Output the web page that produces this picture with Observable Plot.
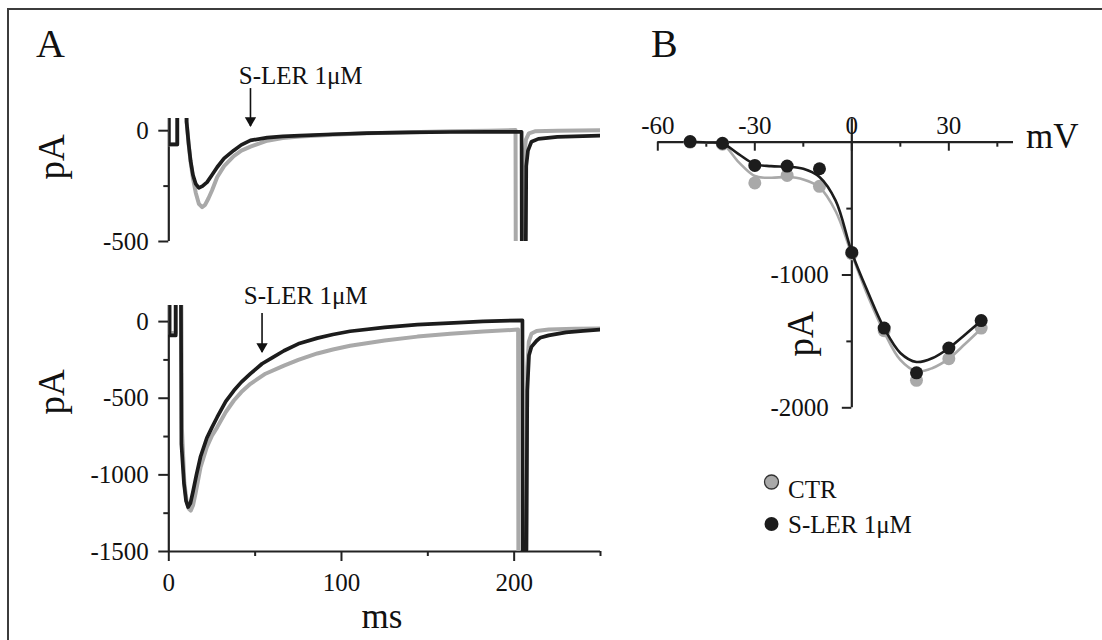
<!DOCTYPE html>
<html><head><meta charset="utf-8">
<script src="https://cdn.jsdelivr.net/npm/d3@7"></script>
<script src="https://cdn.jsdelivr.net/npm/@observablehq/plot@0.6"></script>
<style>
body{margin:0;background:#fff}
#root{position:relative;width:1102px;height:640px;overflow:hidden;background:#fff}
#root svg{font-family:'Liberation Serif','Times New Roman',serif !important}
#root svg text{font-family:'Liberation Serif','Times New Roman',serif !important}
#frame{position:absolute;left:7px;top:8px;width:1200px;height:700px;border:2px solid #3c3c3c}
</style></head><body><div id="root"><div id="frame"></div></div>
<script>
// ---------- DATA ----------
// Panel A, upper traces (time ms, current pA)
const topCtrT = [0,0,4.9,4.9,10.1,10.3,11.5,12.6,14,15.6,17.4,19.3,21,23,25,28,32,37.6,42,47.3,57,66,76,95,115,140,163,185,200.8,201,205.3,205.8,206.8,208.5,212,225,250];
const topCtrI = [300,-62,-62,300,300,40,-60,-140,-215,-280,-330,-345,-335,-305,-270,-210,-160,-115,-90,-72,-45,-33,-26,-18,-12,-7,-3,0,3,-900,-900,-120,-40,-12,-3,0,2];
const topSlerT = [0,0,4.9,4.9,10.1,10.3,11.5,12.6,14,15.6,17.4,19.5,22.2,25,28,32,37.6,42,47.3,57,66,76,95,115,140,163,185,204.3,204.5,206.5,207,208,210,214,225,250];
const topSlerI = [300,-62,-62,300,300,40,-60,-135,-200,-240,-258,-250,-232,-200,-165,-125,-89,-64,-44,-31,-26,-22,-16,-11,-8,-6,-5,-5,-900,-900,-160,-90,-50,-37,-28,-22];
// Panel A, lower traces
const botCtrT = [0.4,0.4,4,4,7.2,7.6,9,10.3,11.5,12.7,14,15.5,18.4,22,25,28,33,37.7,42,47.3,56,66.7,75,86,95,105,125,144,163,182,202.3,202.5,206.8,207.6,208.5,210,213,220,235,250];
const botCtrI = [300,-75,-75,300,300,-700,-1050,-1170,-1220,-1233,-1200,-1120,-950,-820,-745,-690,-590,-515,-460,-406,-340,-287,-250,-208,-182,-158,-124,-98,-80,-65,-52,-2000,-2000,-300,-130,-80,-62,-52,-47,-45];
const botSlerT = [0.4,0.4,4,4,7,7.3,8.8,10,11.2,12.5,14,16,18.4,22,25,28,33,37.7,42,47.3,54,60,66.7,75,86,95,105,125,144,165,182,204.8,205,206.8,207.6,208.6,210,213,215,220,230,240,250];
const botSlerI = [300,-90,-90,300,300,-800,-1057,-1170,-1210,-1185,-1110,-1000,-880,-760,-690,-624,-520,-450,-395,-340,-275,-235,-190,-145,-108,-84,-63,-38,-20,-8,2,8,-2000,-2000,-450,-220,-165,-125,-106,-90,-70,-60,-52];
// Panel B, I-V points
const ivVoltage = [-50,-40,-30,-20,-10,0,10,20,30,40];
const ivCtr  = [0,-15,-307,-250,-332,-840,-1420,-1793,-1630,-1400];
const ivSler = [5,-8,-175,-180,-200,-830,-1400,-1737,-1550,-1343];
// Panel B, fitted curves
const fitVoltage = [-50,-45,-40,-35,-30,-25,-20,-15,-10,-5,0,5,10,15,20,25,30,35,40];
const fitCtr  = [0,-3,-15,-150,-255,-268,-262,-280,-340,-520,-845,-1160,-1430,-1640,-1725,-1700,-1630,-1520,-1405];
const fitSler = [3,-2,-10,-90,-165,-180,-185,-200,-262,-440,-830,-1130,-1400,-1587,-1655,-1625,-1550,-1450,-1345];
// Ticks
const topYMajor = [0,-500], topYMinor = [-250];
const botYMajor = [0,-500,-1000,-1500], botYMinor = [-250,-750,-1250];
const botXMajor = [0,100,200], botXMinor = [50,150,250];
const ivXMajor = [-60,-30,0,30], ivXMinor = [-45,-15,15,45];
const ivYMajor = [-1000,-2000], ivYMinor = [-500,-1500];
// Annotations
const drugLabel = "S-LER 1μM";
const topNote = {t: 40.5, i: 211, arrowT: 47.3, from: 190, to: 19};
const botNote = {t: 43.4, i: 115, arrowT: 54, from: 52, to: -202};
const legendLabels = ["CTR", "S-LER 1μM"];

// ---------- STYLE ----------
const GRAY = "#a9a9a9", BLACK = "#1c1c1c", AX = "#222";
const FONT = "Liberation Serif";
const svgStyle = {position: "absolute", left: "0px", top: "0px", background: "transparent", overflow: "visible", fontFamily: FONT};
const rows = (T, I) => T.map((t, k) => ({t, i: I[k]}));
const fmt = d => String(d);
const root = document.getElementById("root");
const TX = {fontFamily: FONT, fill: "#111"};

function noteMarks(n) {
  return [
    Plot.text([n], {x: "t", y: "i", text: () => drugLabel, textAnchor: "start", lineAnchor: "bottom", fontSize: 25, ...TX}),
    Plot.ruleX([n], {x: "arrowT", y1: "from", y2: "to", stroke: "#111", strokeWidth: 1.6}),
    Plot.dot([n], {x: "arrowT", y: "to", symbol: "triangle", rotate: 180, r: 4.2, fill: "#111", stroke: null, dy: -6})
  ];
}
const axisText = {tickFormat: fmt, fontSize: 25, strokeWidth: 2, stroke: AX, label: null, ...TX};

// ---------- PANEL A (top) ----------
const topPlot = Plot.plot({
  width: 1102, height: 640,
  marginLeft: 168.3, marginRight: 502, marginTop: 118, marginBottom: 399,
  style: svgStyle,
  x: {domain: [0, 250], axis: null},
  y: {domain: [-500, 55]},
  marks: [
    Plot.axisY(topYMajor, {tickSize: 10, tickPadding: 10, ...axisText}),
    Plot.axisY(topYMinor, {tickSize: 5, tickFormat: () => "", strokeWidth: 2, stroke: AX, label: null}),
    Plot.ruleX([0], {stroke: AX, strokeWidth: 2.2}),
    Plot.line(rows(topCtrT, topCtrI), {x: "t", y: "i", stroke: GRAY, strokeWidth: 4, clip: true}),
    Plot.line(rows(topSlerT, topSlerI), {x: "t", y: "i", stroke: BLACK, strokeWidth: 3.7, clip: true}),
    ...noteMarks(topNote)
  ]
});
root.appendChild(topPlot);

// ---------- PANEL A (bottom) ----------
const botPlot = Plot.plot({
  width: 1102, height: 640,
  marginLeft: 168.3, marginRight: 502, marginTop: 305, marginBottom: 89,
  style: svgStyle,
  x: {domain: [0, 250]},
  y: {domain: [-1500, 105]},
  marks: [
    Plot.axisY(botYMajor, {tickSize: 10, tickPadding: 10, ...axisText}),
    Plot.axisY(botYMinor, {tickSize: 5, tickFormat: () => "", strokeWidth: 2, stroke: AX, label: null}),
    Plot.axisX(botXMajor, {tickSize: 10, tickPadding: 12, ...axisText}),
    Plot.axisX(botXMinor, {tickSize: 5, tickFormat: () => "", strokeWidth: 2, stroke: AX, label: null}),
    Plot.ruleX([0], {stroke: AX, strokeWidth: 2.2}),
    Plot.ruleY([-1500], {stroke: AX, strokeWidth: 2.2}),
    Plot.line(rows(botCtrT, botCtrI), {x: "t", y: "i", stroke: GRAY, strokeWidth: 4, clip: true}),
    Plot.line(rows(botSlerT, botSlerI), {x: "t", y: "i", stroke: BLACK, strokeWidth: 3.7, clip: true}),
    ...noteMarks(botNote)
  ]
});
root.appendChild(botPlot);

// ---------- PANEL B ----------
const bTop = 141.7, bBot = 407.3, bLeft = 657.3, bRight = 1013;
const pxPerPA = (bBot - bTop) / 2000, pxPerMV = (bRight - bLeft) / 110;
const ivRows = (Y) => ivVoltage.map((v, k) => ({v, i: Y[k]}));
const fitRows = (Y) => fitVoltage.map((v, k) => ({v, i: Y[k]}));
const ivPlot = Plot.plot({
  width: 1102, height: 640,
  marginLeft: bLeft, marginRight: 1102 - bRight, marginTop: bTop, marginBottom: 640 - bBot,
  style: svgStyle,
  x: {domain: [-60, 50], axis: null},
  y: {domain: [-2000, 0], axis: null},
  marks: [
    Plot.ruleY([0], {stroke: AX, strokeWidth: 2.2}),
    Plot.ruleX([0], {y1: -2000, y2: 23.5 / pxPerPA, stroke: AX, strokeWidth: 2.2}),
    Plot.ruleX(ivXMajor, {x: d => d, y1: 0, y2: -9 / pxPerPA, stroke: AX, strokeWidth: 2}),
    Plot.ruleX(ivXMinor, {x: d => d, y1: 0, y2: -5 / pxPerPA, stroke: AX, strokeWidth: 2}),
    Plot.text(ivXMajor, {x: d => d, y: 0, dy: -8.5, text: fmt, lineAnchor: "bottom", fontSize: 25, ...TX}),
    Plot.ruleY(ivYMajor, {y: d => d, x1: 0, x2: -9.5 / pxPerMV, stroke: AX, strokeWidth: 2}),
    Plot.ruleY(ivYMinor, {y: d => d, x1: 0, x2: -5 / pxPerMV, stroke: AX, strokeWidth: 2}),
    Plot.text(ivYMajor, {x: 0, y: d => d, dx: -23, text: fmt, textAnchor: "end", fontSize: 25, ...TX}),
    Plot.line(fitRows(fitCtr), {x: "v", y: "i", curve: "catmull-rom", stroke: GRAY, strokeWidth: 2.6}),
    Plot.dot(ivRows(ivCtr), {x: "v", y: "i", r: 6.5, fill: GRAY, stroke: null}),
    Plot.line(fitRows(fitSler), {x: "v", y: "i", curve: "catmull-rom", stroke: BLACK, strokeWidth: 2.6}),
    Plot.dot(ivRows(ivSler), {x: "v", y: "i", r: 6.5, fill: BLACK, stroke: null})
  ]
});
root.appendChild(ivPlot);

// ---------- OVERLAY TEXT (panel letters, axis titles, legend) ----------
const ov = d3.create("svg").attr("width", 1102).attr("height", 640)
  .attr("style", "position:absolute;left:0;top:0;background:transparent;overflow:visible")
  .attr("font-family", FONT).attr("fill", "#111");
ov.append("text").attr("x", 36).attr("y", 57).attr("font-size", 40).text("A");
ov.append("text").attr("x", 651).attr("y", 57).attr("font-size", 40).text("B");
const vlabel = (x, y, s) => ov.append("text").attr("transform", `translate(${x},${y}) rotate(-90)`)
  .attr("text-anchor", "middle").attr("dy", "0.22em").attr("font-size", 37).text(s);
vlabel(56, 157, "pA");
vlabel(56, 392, "pA");
vlabel(805, 334, "pA");
ov.append("text").attr("x", 382).attr("y", 628).attr("text-anchor", "middle").attr("font-size", 35).text("ms");
ov.append("text").attr("x", 1026).attr("y", 148).attr("font-size", 35).text("mV");
ov.append("circle").attr("cx", 771.5).attr("cy", 482).attr("r", 7).attr("fill", GRAY).attr("stroke", "#333").attr("stroke-width", 1.3);
ov.append("circle").attr("cx", 771.5).attr("cy", 524).attr("r", 7).attr("fill", BLACK);
ov.append("text").attr("x", 788).attr("y", 498.3).attr("font-size", 25).text(legendLabels[0]);
ov.append("text").attr("x", 788).attr("y", 533.3).attr("font-size", 25).text(legendLabels[1]);
root.appendChild(ov.node());
</script></body></html>
